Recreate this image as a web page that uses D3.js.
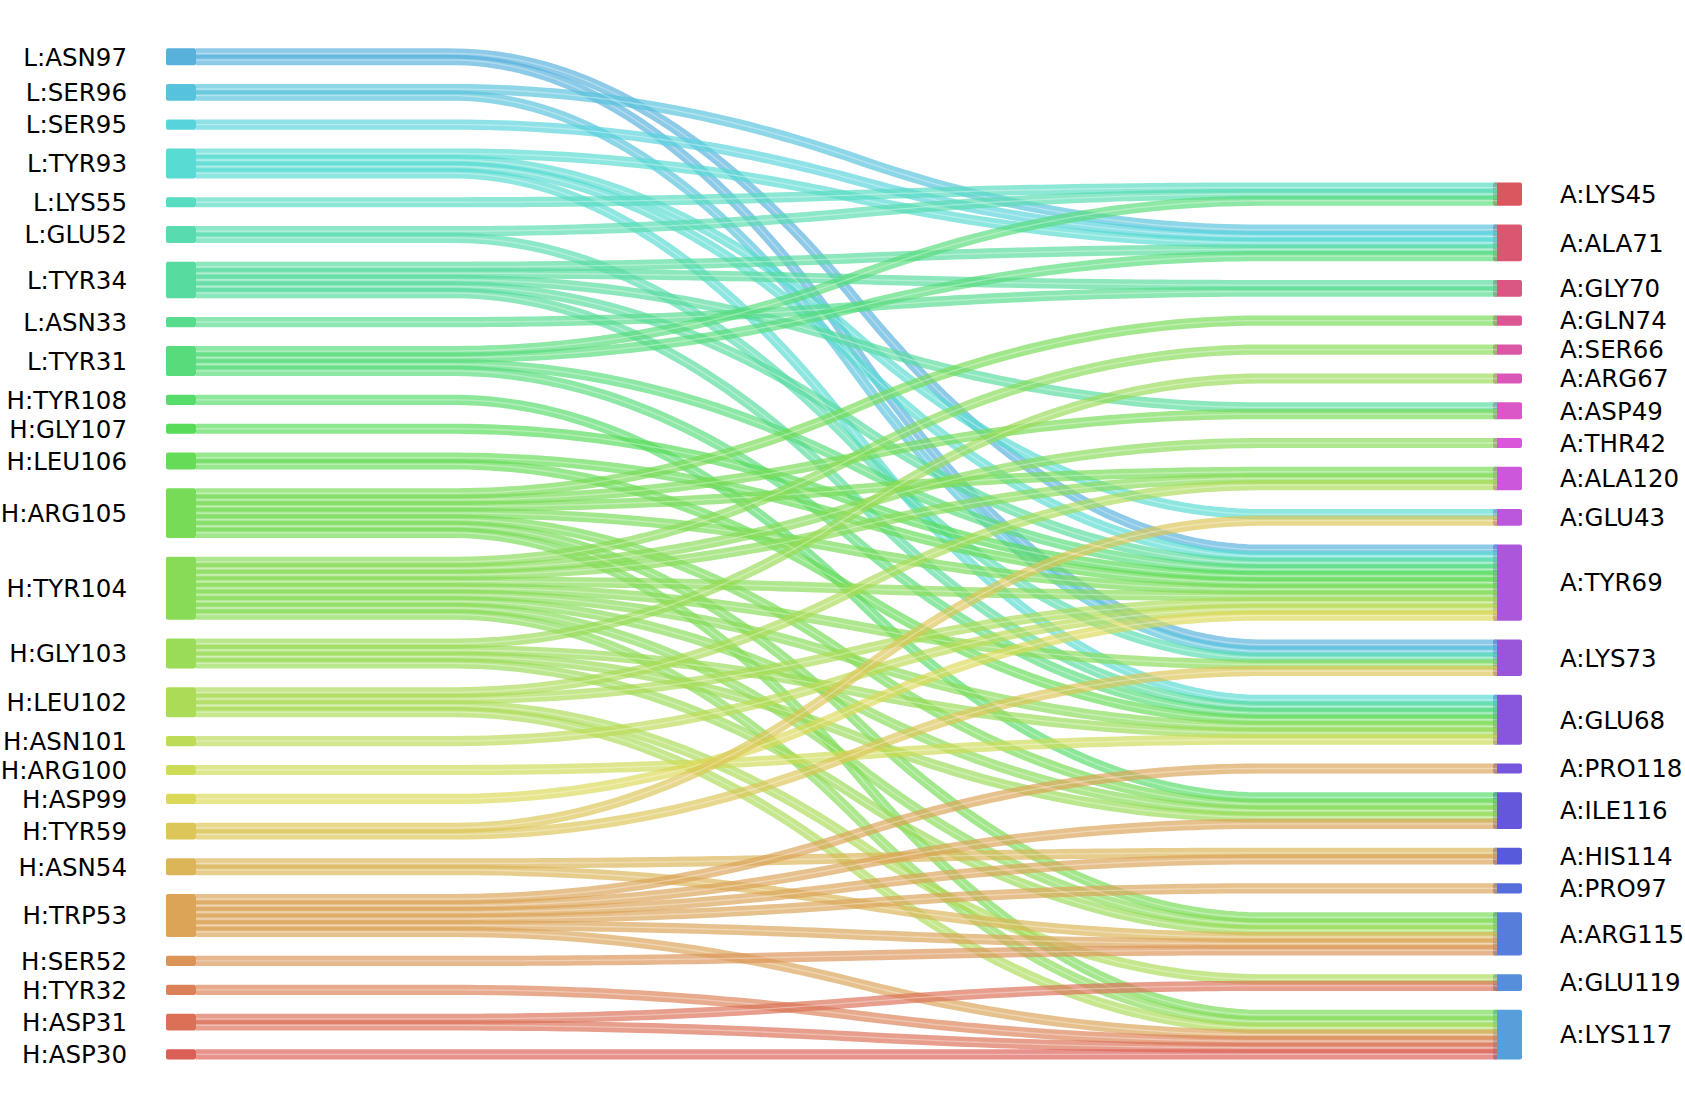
<!DOCTYPE html>
<html>
<head>
<meta charset="utf-8">
<script src="https://cdn.jsdelivr.net/npm/d3@7"></script>
<style>
  html, body { margin: 0; padding: 0; background: #fff; }
  svg { display: block; }
  text { font-family: "DejaVu Sans", sans-serif; font-size: 24.5px; fill: #000; }
</style>
</head>
<body>
<svg id="chart" width="1685" height="1108"></svg>
<script>
// ---------------- data ----------------
const leftLabels = ["L:ASN97","L:SER96","L:SER95","L:TYR93","L:LYS55","L:GLU52","L:TYR34","L:ASN33","L:TYR31",
  "H:TYR108","H:GLY107","H:LEU106","H:ARG105","H:TYR104","H:GLY103","H:LEU102","H:ASN101","H:ARG100",
  "H:ASP99","H:TYR59","H:ASN54","H:TRP53","H:SER52","H:TYR32","H:ASP31","H:ASP30"];
const rightLabels = ["A:LYS45","A:ALA71","A:GLY70","A:GLN74","A:SER66","A:ARG67","A:ASP49","A:THR42","A:ALA120",
  "A:GLU43","A:TYR69","A:LYS73","A:GLU68","A:PRO118","A:ILE116","A:HIS114","A:PRO97","A:ARG115","A:GLU119","A:LYS117"];

const linkSource = [
  "L:ASN97","L:ASN97",
  "L:SER96","L:SER96",
  "L:SER95",
  "L:TYR93","L:TYR93","L:TYR93","L:TYR93",
  "L:LYS55",
  "L:GLU52","L:GLU52",
  "L:TYR34","L:TYR34","L:TYR34","L:TYR34","L:TYR34",
  "L:ASN33",
  "L:TYR31","L:TYR31","L:TYR31","L:TYR31",
  "H:TYR108",
  "H:GLY107",
  "H:LEU106","H:LEU106",
  "H:ARG105","H:ARG105","H:ARG105","H:ARG105","H:ARG105","H:ARG105","H:ARG105",
  "H:TYR104","H:TYR104","H:TYR104","H:TYR104","H:TYR104","H:TYR104","H:TYR104","H:TYR104","H:TYR104",
  "H:GLY103","H:GLY103","H:GLY103","H:GLY103",
  "H:LEU102","H:LEU102","H:LEU102","H:LEU102",
  "H:ASN101",
  "H:ARG100",
  "H:ASP99",
  "H:TYR59","H:TYR59",
  "H:ASN54","H:ASN54",
  "H:TRP53","H:TRP53","H:TRP53","H:TRP53","H:TRP53","H:TRP53",
  "H:SER52",
  "H:TYR32",
  "H:ASP31","H:ASP31",
  "H:ASP30"
];
const linkTarget = [
  "A:TYR69","A:LYS73",
  "A:ALA71","A:LYS73",
  "A:ALA71",
  "A:ALA71","A:GLU43","A:TYR69","A:GLU68",
  "A:LYS45",
  "A:LYS45","A:LYS73",
  "A:ALA71","A:GLY70","A:ASP49","A:TYR69","A:GLU68",
  "A:GLY70",
  "A:LYS45","A:ALA71","A:TYR69","A:GLU68",
  "A:ILE116",
  "A:TYR69",
  "A:TYR69","A:GLU68",
  "A:GLN74","A:ASP49","A:ALA120","A:TYR69","A:ILE116","A:ARG115","A:LYS117",
  "A:SER66","A:THR42","A:ALA120","A:TYR69","A:LYS73","A:GLU68","A:ILE116","A:ARG115","A:LYS117",
  "A:ARG67","A:GLU68","A:ILE116","A:ARG115",
  "A:ALA120","A:TYR69","A:GLU119","A:LYS117",
  "A:TYR69",
  "A:GLU68",
  "A:TYR69",
  "A:GLU43","A:LYS73",
  "A:HIS114","A:ARG115",
  "A:PRO118","A:HIS114","A:PRO97","A:ILE116","A:ARG115","A:LYS117",
  "A:ARG115",
  "A:LYS117",
  "A:GLU119","A:LYS117",
  "A:LYS117"
];
const linkValue = linkSource.map(() => 1);

// ---------------- layout ----------------
const svg = d3.select("#chart");
svg.append("rect").attr("width", 1685).attr("height", 1108).attr("fill", "#fff");

const UNIT = 6.6;        // strand spacing
const STRAND = 10.2;     // strand width
const PAD = 18.75;       // node padding
const BOTTOM = 1059.5;
const unitScale = d3.scaleLinear().domain([0, 1]).range([0, UNIT]);

const nAll = leftLabels.length + rightLabels.length;
const hueScale = d3.scaleLinear().domain([0, nAll]).range([0, 360]);
function colorOf(idx) {
  const h = (hueScale(idx) + 3.6) % 360;
  return d3.hsl(h, 0.65, 0.6).formatHex();
}

function buildColumn(labels, side) {
  const nodes = labels.map((name, i) => ({ name, i, side, value: 0 }));
  const byName = new Map(nodes.map(n => [n.name, n]));
  linkSource.forEach((s, k) => {
    const nm = side === "L" ? s : linkTarget[k];
    if (byName.has(nm)) byName.get(nm).value += linkValue[k];
  });
  nodes.forEach(n => { n.h = unitScale(n.value) + (STRAND - UNIT); });
  const total = d3.sum(nodes, n => n.h) + PAD * (nodes.length - 1);
  let y = BOTTOM - total;
  nodes.forEach(n => { n.y0 = y; n.y1 = y + n.h; y = n.y1 + PAD; });
  return { nodes, byName };
}
const L = buildColumn(leftLabels, "L");
const R = buildColumn(rightLabels, "R");
L.nodes.forEach((n, i) => n.color = colorOf(leftLabels.length - 1 - i));
R.nodes.forEach((n, j) => n.color = colorOf(nAll - 1 - j));

// expand links into strands
const links = linkSource.map((s, k) => ({ s: L.byName.get(s), t: R.byName.get(linkTarget[k]), v: linkValue[k], k }));
const strands = [];
links.forEach(l => { for (let q = 0; q < l.v; q++) strands.push({ s: l.s, t: l.t, q }); });
L.nodes.forEach(n => {
  const out = strands.filter(st => st.s === n).sort((a, b) => a.t.i - b.t.i || a.q - b.q);
  out.forEach((st, k) => st.ys = n.y0 + unitScale(k) + STRAND / 2);
});
R.nodes.forEach(n => {
  const inc = strands.filter(st => st.t === n).sort((a, b) => a.s.i - b.s.i || a.q - b.q);
  inc.forEach((st, k) => st.ye = n.y0 + unitScale(k) + STRAND / 2);
});

// ---------------- drawing ----------------
const XL0 = 166, XL1 = 196, XR0 = 1493, XR1 = 1522, XEND = 1497;
const xScale = d3.scaleLinear().domain([0, 1]).range([XL1, XEND]);
const A = 12 / 61, B = 50 / 61;
function smooth(t) {
  if (t <= A) return 0;
  if (t >= B) return 1;
  const u = (t - A) / (B - A);
  return u < 0.5 ? 2 * u * u : 1 - 2 * (1 - u) * (1 - u);
}
const tSamples = d3.range(0, 1.0001, 1 / 120);
const line = d3.line().x(d => d[0]).y(d => d[1]);
function strandPath(st) {
  return line(tSamples.map(t => [xScale(t), st.ys + (st.ye - st.ys) * smooth(t)]));
}

svg.append("g").selectAll("rect").data(R.nodes).join("rect")
  .attr("x", XR0).attr("y", d => d.y0).attr("width", XR1 - XR0).attr("height", d => d.h)
  .attr("rx", 2).attr("fill", d => d.color);

const gLinks = svg.append("g");
strands.forEach(st => {
  const p = strandPath(st);
  gLinks.append("path").attr("d", p).attr("fill", "none")
    .attr("stroke", st.s.color).attr("stroke-width", STRAND).attr("stroke-opacity", 0.68);
  gLinks.append("path").attr("d", p).attr("fill", "none")
    .attr("stroke", "#fff").attr("stroke-width", 1.3).attr("stroke-opacity", 0.35);
});

svg.append("g").selectAll("rect").data(L.nodes).join("rect")
  .attr("x", XL0).attr("y", d => d.y0).attr("width", XL1 - XL0).attr("height", d => d.h)
  .attr("rx", 2).attr("fill", d => d.color);

svg.append("g").selectAll("text").data(L.nodes).join("text")
  .attr("x", 127).attr("y", d => (d.y0 + d.y1) / 2).attr("dy", "0.36em")
  .attr("text-anchor", "end").text(d => d.name);
svg.append("g").selectAll("text").data(R.nodes).join("text")
  .attr("x", 1560).attr("y", d => (d.y0 + d.y1) / 2).attr("dy", "0.36em")
  .attr("text-anchor", "start").text(d => d.name);
</script>
</body>
</html>
